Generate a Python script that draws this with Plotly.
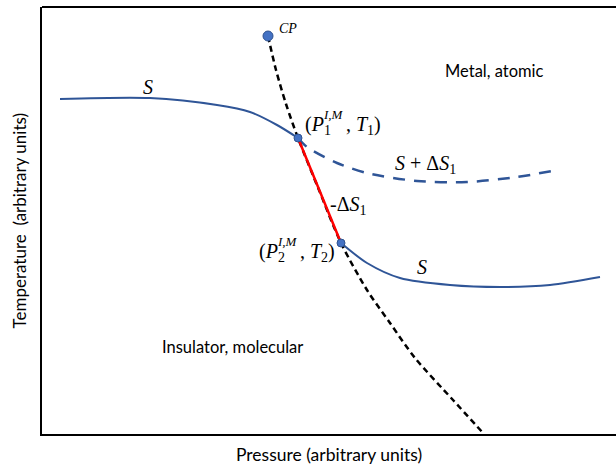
import plotly.graph_objects as go

# Arbitrary units
boundary_p = [226, 234, 244, 256, 277, 299, 325, 348, 373, 411, 442]
boundary_t = [398, 364, 330, 296, 244, 191, 144, 111, 76, 34, 0]

s_upper_p = [18, 108, 175, 208, 235, 256]
s_upper_t = [335, 336, 329, 322, 309, 296]

s_plus_p = [256, 265, 295, 325, 375, 425, 475, 515]
s_plus_t = [296, 287, 271, 261, 253, 252, 257, 264]

s_lower_p = [299, 325, 358, 408, 458, 508, 558]
s_lower_t = [191, 171, 156, 149, 147, 149, 157]

jump_p = [256, 299]
jump_t = [296, 191]

cp_p, cp_t = [226], [398]
pts_p = [256, 299]
pts_t = [296, 191]

BLUE = "#2F5597"
MARK = "#4472C4"
SERIF = "Liberation Serif"
SANS = "Lato"

fig = go.Figure()
fig.add_trace(go.Scatter(x=s_upper_p, y=s_upper_t, mode="lines",
                         line=dict(color=BLUE, width=2, shape="spline", smoothing=0.8)))
fig.add_trace(go.Scatter(x=s_plus_p, y=s_plus_t, mode="lines",
                         line=dict(color=BLUE, width=2.5, dash="12px,9px", shape="spline", smoothing=0.8)))
fig.add_trace(go.Scatter(x=s_lower_p, y=s_lower_t, mode="lines",
                         line=dict(color=BLUE, width=2, shape="spline", smoothing=0.8)))
fig.add_trace(go.Scatter(x=boundary_p, y=boundary_t, mode="lines",
                         line=dict(color="black", width=2.5, dash="6px,4px", shape="spline", smoothing=0.8)))
fig.add_trace(go.Scatter(x=jump_p, y=jump_t, mode="lines",
                         line=dict(color="#FF0000", width=2.5)))
fig.add_trace(go.Scatter(x=cp_p, y=cp_t, mode="markers",
                         marker=dict(size=10, color=MARK, line=dict(color="#2F528F", width=1))))
fig.add_trace(go.Scatter(x=pts_p, y=pts_t, mode="markers",
                         marker=dict(size=8, color=MARK, line=dict(color="#2F528F", width=1))))

ann = []
def add(text, x, y, size, family=SERIF, xanchor="center", xshift=0, yshift=0, **kw):
    ann.append(dict(text=text, x=x, y=y, xref="x", yref="y", showarrow=False,
                    xanchor=xanchor, yanchor="middle", xshift=xshift, yshift=yshift,
                    font=dict(family=family, size=size, color="black"), **kw))

add("<i>CP</i>", 246, 406, 14)
add("<i>S</i>", 106, 347, 20)
add("<i>S</i>", 380, 167, 20)
add("<i>S</i> + Δ<i>S</i><sub>1</sub>", 383, 270, 20)
add("-Δ<i>S</i><sub>1</sub>", 306, 229, 20)

# (P1^{I,M}, T1)
add("(<i>P</i><sub>1</sub>&nbsp;&nbsp;&nbsp;, <i>T</i><sub>1</sub>)", 261, 309, 20, xanchor="left")
add("<i>I,M</i>", 261, 309, 13, xanchor="left", xshift=18, yshift=11)
# (P2^{I,M}, T2)
add("(<i>P</i><sub>2</sub>&nbsp;&nbsp;&nbsp;, <i>T</i><sub>2</sub>)", 215, 182, 20, xanchor="left")
add("<i>I,M</i>", 215, 182, 13, xanchor="left", xshift=18, yshift=11)

add("Metal, atomic", 452, 363, 16.5, family=SANS)
add("Insulator, molecular", 190, 87, 16.5, family=SANS)

ann.append(dict(text="Pressure (arbitrary units)", xref="paper", yref="paper", x=0.5, y=0,
                yshift=-20, showarrow=False, xanchor="center", yanchor="middle",
                font=dict(family=SANS, size=17.5, color="black")))
ann.append(dict(text="Temperature  (arbitrary units)", xref="paper", yref="paper", x=0, y=0.5,
                xshift=-23, showarrow=False, xanchor="center", yanchor="middle", textangle=-90,
                font=dict(family=SANS, size=17, color="black")))

fig.update_layout(
    width=616, height=464,
    margin=dict(l=42, r=0, t=7, b=30),
    paper_bgcolor="white", plot_bgcolor="white",
    showlegend=False,
    annotations=ann,
    xaxis=dict(range=[0, 574], showgrid=False, zeroline=False, showticklabels=False,
               ticks="", showline=True, linecolor="black", linewidth=2),
    yaxis=dict(range=[0, 427], showgrid=False, zeroline=False, showticklabels=False,
               ticks="", showline=True, linecolor="black", linewidth=2),
    shapes=[dict(type="line", xref="paper", yref="paper", x0=0, x1=1, y0=1, y1=1,
                 line=dict(color="black", width=2))],
)

fig.write_html("out.html")
